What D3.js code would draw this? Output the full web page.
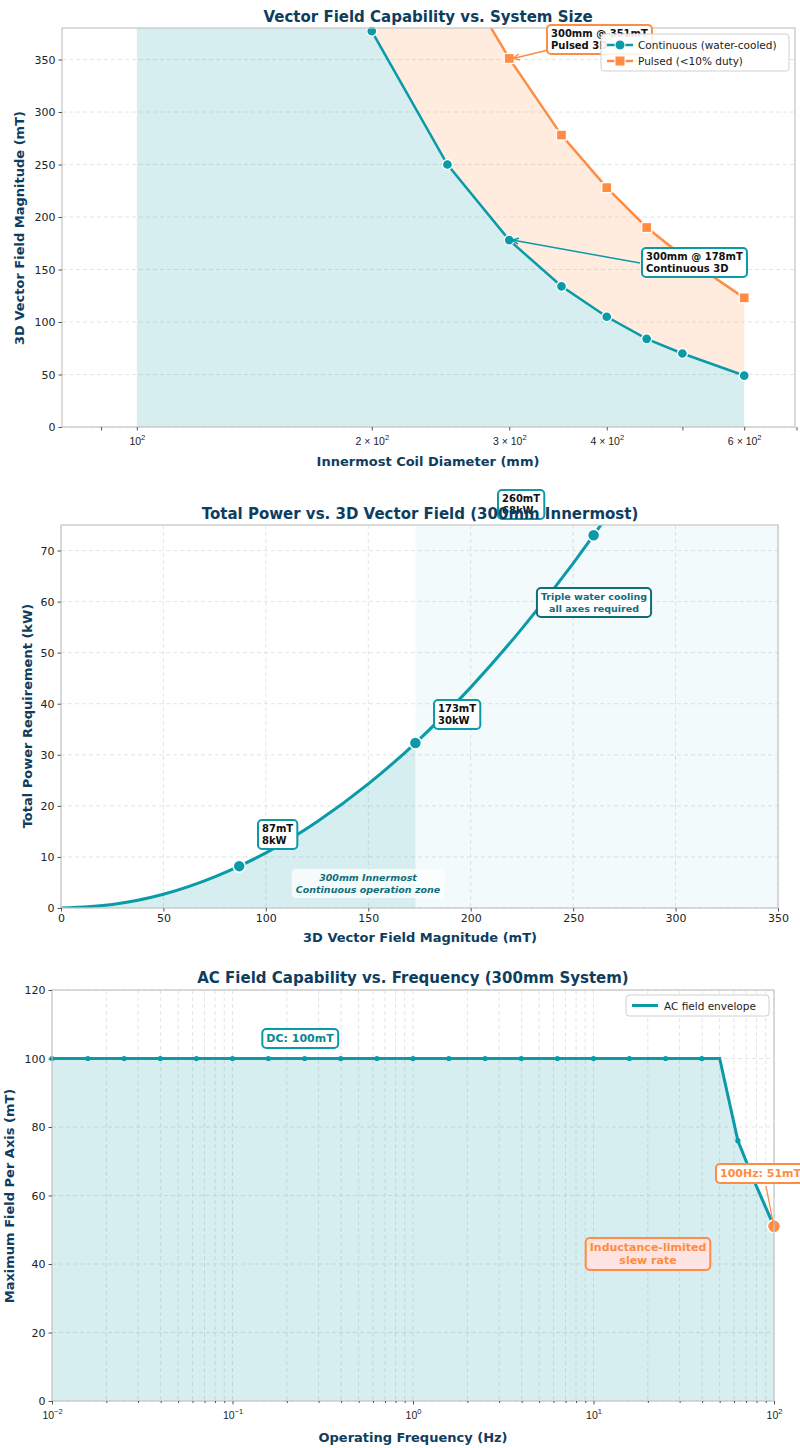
<!DOCTYPE html>
<html>
<head>
<meta charset="utf-8">
<script src="https://cdn.jsdelivr.net/npm/d3@7"></script>
<style>
  body { margin: 0; background: #fff; }
  svg { display: block; font-family: "DejaVu Sans", sans-serif; }
</style>
</head>
<body>
<div id="chart"></div>
<script>
// ---- data: chart 1 (field vs innermost diameter) ----
const diametersMM = [100, 150, 200, 250, 300, 350, 400, 450, 500, 600];
const continuousMT = [1370, 650, 377, 250, 178, 134, 105, 84, 70, 49];
const pulsedMT = [2700, 1290, 690, 450, 351, 278, 228, 190, 163, 123];
const diamTicks = [90, 100, 200, 300, 400, 500, 600, 700];
const diamTickLabels = { 100: ["10", "2"], 200: ["2 × 10", "2"], 300: ["3 × 10", "2"], 400: ["4 × 10", "2"], 600: ["6 × 10", "2"] };
const fieldTicks1 = [0, 50, 100, 150, 200, 250, 300, 350];

// ---- data: chart 2 (power vs field) ----
const fieldMT = [0, 25, 50, 75, 87, 100, 125, 150, 173, 200, 225, 250, 260, 275, 300];
const powerKW = [0, 0.7, 2.7, 6.1, 8.2, 10.8, 16.9, 24.3, 32.3, 43.2, 54.7, 67.5, 73, 81.7, 97.2];
const markedFieldMT = [87, 173, 260];
const markedPowerKW = [8.2, 32.3, 73];
const markedLabels = [["87mT", "8kW"], ["173mT", "30kW"], ["260mT", "68kW"]];
const fieldTicks2 = [0, 50, 100, 150, 200, 250, 300, 350];
const powerTicks = [0, 10, 20, 30, 40, 50, 60, 70];

// ---- data: chart 3 (AC field vs frequency) ----
const envelopeHz = [0.01, 50, 63.1, 79.4, 100];
const envelopeMT = [100, 100, 76, 63, 51];
const sampleHz = [0.01, 0.0158, 0.0251, 0.0398, 0.0631, 0.1, 0.158, 0.251, 0.398, 0.631,
                  1, 1.58, 2.51, 3.98, 6.31, 10, 15.8, 25.1, 39.8, 63.1];
const sampleMT = [100, 100, 100, 100, 100, 100, 100, 100, 100, 100,
                  100, 100, 100, 100, 100, 100, 100, 100, 100, 76];
const acTicks = [0, 20, 40, 60, 80, 100, 120];
const decades = [-2, -1, 0, 1, 2];

// ---- style ----
const TEAL = "#0a9aa8", ORANGE = "#ff8c42", NAVY = "#0e3d5e", DARKTEAL = "#0f6e7b";
const SPINE = "#c8c8c8", GRID = "#e4e4e4", TICKTXT = "#222";

const svg = d3.select("#chart").append("svg").attr("width", 800).attr("height", 1448);

function frame(id, box) {
  const g = svg.append("g");
  svg.append("defs").append("clipPath").attr("id", id)
    .append("rect").attr("x", box.l).attr("y", box.t).attr("width", box.r - box.l).attr("height", box.b - box.t);
  return g;
}

function spines(box) {
  svg.append("rect").attr("x", box.l).attr("y", box.t).attr("width", box.r - box.l).attr("height", box.b - box.t)
    .attr("fill", "none").attr("stroke", SPINE).attr("stroke-width", 1.3);
}

function styleAxis(sel) {
  sel.select(".domain").remove();
  sel.selectAll(".tick line").attr("stroke", "#555");
  sel.selectAll(".tick text").attr("fill", TICKTXT).attr("font-size", "11px").attr("font-family", "DejaVu Sans");
}

function titleText(x, y, txt) {
  svg.append("text").attr("x", x).attr("y", y).attr("text-anchor", "middle")
    .attr("font-size", "15px").attr("font-weight", "bold").attr("fill", NAVY).text(txt);
}
function xLabel(x, y, txt) {
  svg.append("text").attr("x", x).attr("y", y).attr("text-anchor", "middle")
    .attr("font-size", "13px").attr("font-weight", "bold").attr("fill", NAVY).text(txt);
}
function yLabel(x, y, txt) {
  svg.append("text").attr("transform", `translate(${x},${y}) rotate(-90)`).attr("text-anchor", "middle")
    .attr("font-size", "13px").attr("font-weight", "bold").attr("fill", NAVY).text(txt);
}

// annotation box: text lines with a rounded rect behind
function noteBox(o) {
  const g = svg.append("g");
  const rect = g.append("rect");
  const t = g.append("text").attr("font-size", (o.size || 10) + "px").attr("font-weight", "bold")
    .attr("font-style", o.italic ? "italic" : "normal").attr("fill", o.color || "#111")
    .attr("text-anchor", o.align || "start");
  o.lines.forEach((ln, i) => t.append("tspan").attr("x", o.x).attr("y", o.y + i * (o.lh || 12)).text(ln));
  const bb = t.node().getBBox();
  const pad = o.pad == null ? 4 : o.pad;
  rect.attr("x", bb.x - pad).attr("y", bb.y - pad + 1).attr("width", bb.width + 2 * pad).attr("height", bb.height + 2 * pad - 2)
    .attr("rx", 4).attr("fill", o.fill || "#fff").attr("fill-opacity", o.fillOpacity == null ? 1 : o.fillOpacity)
    .attr("stroke", o.stroke || "none").attr("stroke-width", o.stroke ? 2 : 0);
  return g;
}

function arrow(x1, y1, x2, y2, color) {
  svg.append("line").attr("x1", x1).attr("y1", y1).attr("x2", x2).attr("y2", y2)
    .attr("stroke", color).attr("stroke-width", 1.5);
  const a = Math.atan2(y2 - y1, x2 - x1), L = 7, s = 0.45;
  const p = [[x2 - L * Math.cos(a - s), y2 - L * Math.sin(a - s)], [x2, y2], [x2 - L * Math.cos(a + s), y2 - L * Math.sin(a + s)]];
  svg.append("path").attr("d", d3.line()(p)).attr("fill", "none").attr("stroke", color).attr("stroke-width", 1.5);
}

// ================= CHART 1 =================
{
  const box = { l: 62, r: 795, t: 28, b: 427 };
  const x = d3.scaleLog().domain([80.2, 697]).range([box.l, box.r]);
  const y = d3.scaleLinear().domain([0, 380]).range([box.b, box.t]);
  const g = frame("clip1", box);
  const data = diametersMM.map((d, i) => ({ d, c: continuousMT[i], p: pulsedMT[i] }));

  // grid
  g.append("g").selectAll("line").data(fieldTicks1).join("line")
    .attr("x1", box.l).attr("x2", box.r).attr("y1", d => y(d)).attr("y2", d => y(d))
    .attr("stroke", GRID).attr("stroke-dasharray", "4,3");

  const pg = g.append("g").attr("clip-path", "url(#clip1)");
  pg.append("path").datum(data).attr("fill", TEAL).attr("fill-opacity", 0.17)
    .attr("d", d3.area().x(d => x(d.d)).y0(y(0)).y1(d => y(d.c)));
  pg.append("path").datum(data).attr("fill", ORANGE).attr("fill-opacity", 0.17)
    .attr("d", d3.area().x(d => x(d.d)).y0(d => y(d.c)).y1(d => y(d.p)));
  pg.append("path").datum(data).attr("fill", "none").attr("stroke", TEAL).attr("stroke-width", 2.5)
    .attr("d", d3.line().x(d => x(d.d)).y(d => y(d.c)));
  pg.append("path").datum(data).attr("fill", "none").attr("stroke", ORANGE).attr("stroke-width", 2.5)
    .attr("d", d3.line().x(d => x(d.d)).y(d => y(d.p)));
  g.selectAll(".cdot").data(data.filter(d => d.c <= 382)).join("circle")
    .attr("cx", d => x(d.d)).attr("cy", d => y(d.c)).attr("r", 5)
    .attr("fill", TEAL).attr("stroke", "#fff").attr("stroke-width", 1.3);
  g.selectAll(".pdot").data(data.filter(d => d.p <= 380)).join("rect")
    .attr("x", d => x(d.d) - 5).attr("y", d => y(d.p) - 5).attr("width", 10).attr("height", 10)
    .attr("fill", ORANGE).attr("stroke", "#fff").attr("stroke-width", 1.3);

  spines(box);
  const ya = svg.append("g").attr("transform", `translate(${box.l},0)`)
    .call(d3.axisLeft(y).tickValues(fieldTicks1).tickSize(3.5).tickPadding(3));
  styleAxis(ya);
  const xa = svg.append("g").attr("transform", `translate(0,${box.b})`)
    .call(d3.axisBottom(x).tickValues(diamTicks).tickSize(3.5).tickFormat(""));
  styleAxis(xa);
  xa.selectAll(".tick").each(function (d) {
    const lab = diamTickLabels[d];
    if (!lab) return;
    const t = d3.select(this).append("text").attr("y", 18).attr("text-anchor", "middle")
      .attr("fill", TICKTXT).attr("font-size", "10.5px");
    t.append("tspan").text(lab[0]);
    t.append("tspan").attr("dy", -5).attr("font-size", "7.5px").text(lab[1]);
  });

  // annotations
  noteBox({ x: 646, y: 260, lines: ["300mm @ 178mT", "Continuous 3D"], stroke: TEAL, size: 10 });
  arrow(640, 263, x(300) + 3, y(178), TEAL);
  noteBox({ x: 551, y: 37, lines: ["300mm @ 351mT", "Pulsed 3D"], stroke: ORANGE, size: 10 });
  arrow(548, 50, x(300) + 4, y(351), ORANGE);

  // legend
  const lg = svg.append("g").attr("transform", "translate(601,34)");
  lg.append("rect").attr("width", 188).attr("height", 37).attr("rx", 3)
    .attr("fill", "#fff").attr("fill-opacity", 0.9).attr("stroke", "#d0d0d0");
  lg.append("line").attr("x1", 6).attr("x2", 32).attr("y1", 11).attr("y2", 11).attr("stroke", TEAL).attr("stroke-width", 2.5);
  lg.append("circle").attr("cx", 19).attr("cy", 11).attr("r", 5).attr("fill", TEAL).attr("stroke", "#fff");
  lg.append("line").attr("x1", 6).attr("x2", 32).attr("y1", 27).attr("y2", 27).attr("stroke", ORANGE).attr("stroke-width", 2.5);
  lg.append("rect").attr("x", 14).attr("y", 22).attr("width", 10).attr("height", 10).attr("fill", ORANGE).attr("stroke", "#fff");
  lg.append("text").attr("x", 37).attr("y", 15).attr("font-size", "10.5px").attr("fill", "#222").text("Continuous (water-cooled)");
  lg.append("text").attr("x", 37).attr("y", 31).attr("font-size", "10.5px").attr("fill", "#222").text("Pulsed (<10% duty)");

  titleText(428, 22, "Vector Field Capability vs. System Size");
  xLabel(428, 466, "Innermost Coil Diameter (mm)");
  yLabel(24, 228, "3D Vector Field Magnitude (mT)");
}

// ================= CHART 2 =================
{
  const box = { l: 61, r: 778, t: 525, b: 908 };
  const x = d3.scaleLinear().domain([0, 350]).range([box.l, box.r]);
  const y = d3.scaleLinear().domain([0, 75]).range([box.b, box.t]);
  const g = frame("clip2", box);
  const data = fieldMT.map((f, i) => ({ f, p: powerKW[i] }));

  g.append("g").selectAll("line").data(fieldTicks2).join("line")
    .attr("x1", d => x(d)).attr("x2", d => x(d)).attr("y1", box.t).attr("y2", box.b)
    .attr("stroke", GRID).attr("stroke-dasharray", "4,3");
  g.append("g").selectAll("line").data(powerTicks).join("line")
    .attr("x1", box.l).attr("x2", box.r).attr("y1", d => y(d)).attr("y2", d => y(d))
    .attr("stroke", GRID).attr("stroke-dasharray", "4,3");

  const pg = g.append("g").attr("clip-path", "url(#clip2)");
  pg.append("rect").attr("x", x(173)).attr("y", box.t).attr("width", box.r - x(173)).attr("height", box.b - box.t)
    .attr("fill", TEAL).attr("fill-opacity", 0.05);
  pg.append("path").datum(data.filter(d => d.f <= 173)).attr("fill", TEAL).attr("fill-opacity", 0.17)
    .attr("d", d3.area().curve(d3.curveMonotoneX).x(d => x(d.f)).y0(y(0)).y1(d => y(d.p)));
  pg.append("path").datum(data).attr("fill", "none").attr("stroke", TEAL).attr("stroke-width", 3)
    .attr("d", d3.line().curve(d3.curveMonotoneX).x(d => x(d.f)).y(d => y(d.p)));
  g.selectAll(".mdot").data(markedFieldMT).join("circle")
    .attr("cx", d => x(d)).attr("cy", (d, i) => y(markedPowerKW[i])).attr("r", 6)
    .attr("fill", TEAL).attr("stroke", "#fff").attr("stroke-width", 1.5);

  spines(box);
  styleAxis(svg.append("g").attr("transform", `translate(${box.l},0)`)
    .call(d3.axisLeft(y).tickValues(powerTicks).tickSize(3.5).tickPadding(3)));
  styleAxis(svg.append("g").attr("transform", `translate(0,${box.b})`)
    .call(d3.axisBottom(x).tickValues(fieldTicks2).tickSize(3.5).tickPadding(3)));

  noteBox({ x: 368, y: 881, lines: ["300mm Innermost", "Continuous operation zone"], align: "middle",
            italic: true, color: DARKTEAL, fill: "#fff", fillOpacity: 0.75, size: 9.5 });
  noteBox({ x: 262, y: 832, lines: markedLabels[0], stroke: TEAL, size: 10 });
  noteBox({ x: 438, y: 712, lines: markedLabels[1], stroke: TEAL, size: 10 });
  noteBox({ x: 502, y: 502, lines: markedLabels[2], stroke: TEAL, size: 10 });
  noteBox({ x: 594, y: 600, lines: ["Triple water cooling", "all axes required"], align: "middle",
            stroke: DARKTEAL, color: DARKTEAL, size: 9.5 });

  titleText(420, 519, "Total Power vs. 3D Vector Field (300mm Innermost)");
  xLabel(420, 942, "3D Vector Field Magnitude (mT)");
  yLabel(32, 716, "Total Power Requirement (kW)");
}

// ================= CHART 3 =================
{
  const box = { l: 52, r: 774, t: 990, b: 1401 };
  const x = d3.scaleLog().domain([0.01, 100]).range([box.l, box.r]);
  const y = d3.scaleLinear().domain([0, 120]).range([box.b, box.t]);
  const g = frame("clip3", box);
  const env = envelopeHz.map((f, i) => ({ f, v: envelopeMT[i] }));

  const minor = [];
  decades.slice(0, -1).forEach(k => { for (let j = 2; j <= 9; j++) minor.push(j * Math.pow(10, k)); });
  const major = decades.map(k => Math.pow(10, k));

  g.append("g").selectAll("line").data(major.concat(minor)).join("line")
    .attr("x1", d => x(d)).attr("x2", d => x(d)).attr("y1", box.t).attr("y2", box.b)
    .attr("stroke", GRID).attr("stroke-dasharray", "4,3");
  g.append("g").selectAll("line").data(acTicks).join("line")
    .attr("x1", box.l).attr("x2", box.r).attr("y1", d => y(d)).attr("y2", d => y(d))
    .attr("stroke", GRID).attr("stroke-dasharray", "4,3");

  const pg = g.append("g").attr("clip-path", "url(#clip3)");
  pg.append("path").datum(env).attr("fill", TEAL).attr("fill-opacity", 0.17)
    .attr("d", d3.area().x(d => x(d.f)).y0(y(0)).y1(d => y(d.v)));
  pg.append("path").datum(env).attr("fill", "none").attr("stroke", TEAL).attr("stroke-width", 3)
    .attr("d", d3.line().x(d => x(d.f)).y(d => y(d.v)));
  g.selectAll(".sdot").data(sampleHz).join("circle")
    .attr("cx", d => x(d)).attr("cy", (d, i) => y(sampleMT[i])).attr("r", 2.6).attr("fill", TEAL);
  g.append("circle").attr("cx", x(100)).attr("cy", y(51)).attr("r", 6.5)
    .attr("fill", ORANGE).attr("stroke", "#fff").attr("stroke-width", 1.5);

  spines(box);
  styleAxis(svg.append("g").attr("transform", `translate(${box.l},0)`)
    .call(d3.axisLeft(y).tickValues(acTicks).tickSize(3.5).tickPadding(3)));
  const xa = svg.append("g").attr("transform", `translate(0,${box.b})`);
  styleAxis(xa.call(d3.axisBottom(x).tickValues(major).tickSize(3.5).tickFormat("")));
  xa.selectAll(".tick").each(function (d) {
    const t = d3.select(this).append("text").attr("y", 18).attr("text-anchor", "middle")
      .attr("fill", TICKTXT).attr("font-size", "10.5px");
    t.append("tspan").text("10");
    t.append("tspan").attr("dy", -5).attr("font-size", "7.5px").text(String(Math.round(Math.log10(d))).replace("-", "−"));
  });
  const xm = svg.append("g").attr("transform", `translate(0,${box.b})`);
  styleAxis(xm.call(d3.axisBottom(x).tickValues(minor).tickSize(2).tickFormat("")));

  noteBox({ x: 300, y: 1042, lines: ["DC: 100mT"], align: "middle", stroke: TEAL, color: "#0b8893", size: 11 });
  noteBox({ x: 648, y: 1251, lines: ["Inductance-limited", "slew rate"], align: "middle",
            stroke: ORANGE, color: ORANGE, fill: "#fde3e1", size: 11, lh: 13 });
  svg.append("line").attr("x1", 766).attr("y1", 1186).attr("x2", 773).attr("y2", 1222)
    .attr("stroke", ORANGE).attr("stroke-width", 1.3);
  noteBox({ x: 720, y: 1177, lines: ["100Hz: 51mT"], stroke: ORANGE, color: ORANGE, size: 11 });

  const lg = svg.append("g").attr("transform", "translate(626,995)");
  lg.append("rect").attr("width", 143).attr("height", 21).attr("rx", 3)
    .attr("fill", "#fff").attr("fill-opacity", 0.9).attr("stroke", "#d0d0d0");
  lg.append("line").attr("x1", 6).attr("x2", 32).attr("y1", 10.5).attr("y2", 10.5).attr("stroke", TEAL).attr("stroke-width", 3);
  lg.append("text").attr("x", 38).attr("y", 14.5).attr("font-size", "10.5px").attr("fill", "#222").text("AC field envelope");

  titleText(413, 983, "AC Field Capability vs. Frequency (300mm System)");
  xLabel(413, 1442, "Operating Frequency (Hz)");
  yLabel(14, 1196, "Maximum Field Per Axis (mT)");
}
</script>
</body>
</html>
